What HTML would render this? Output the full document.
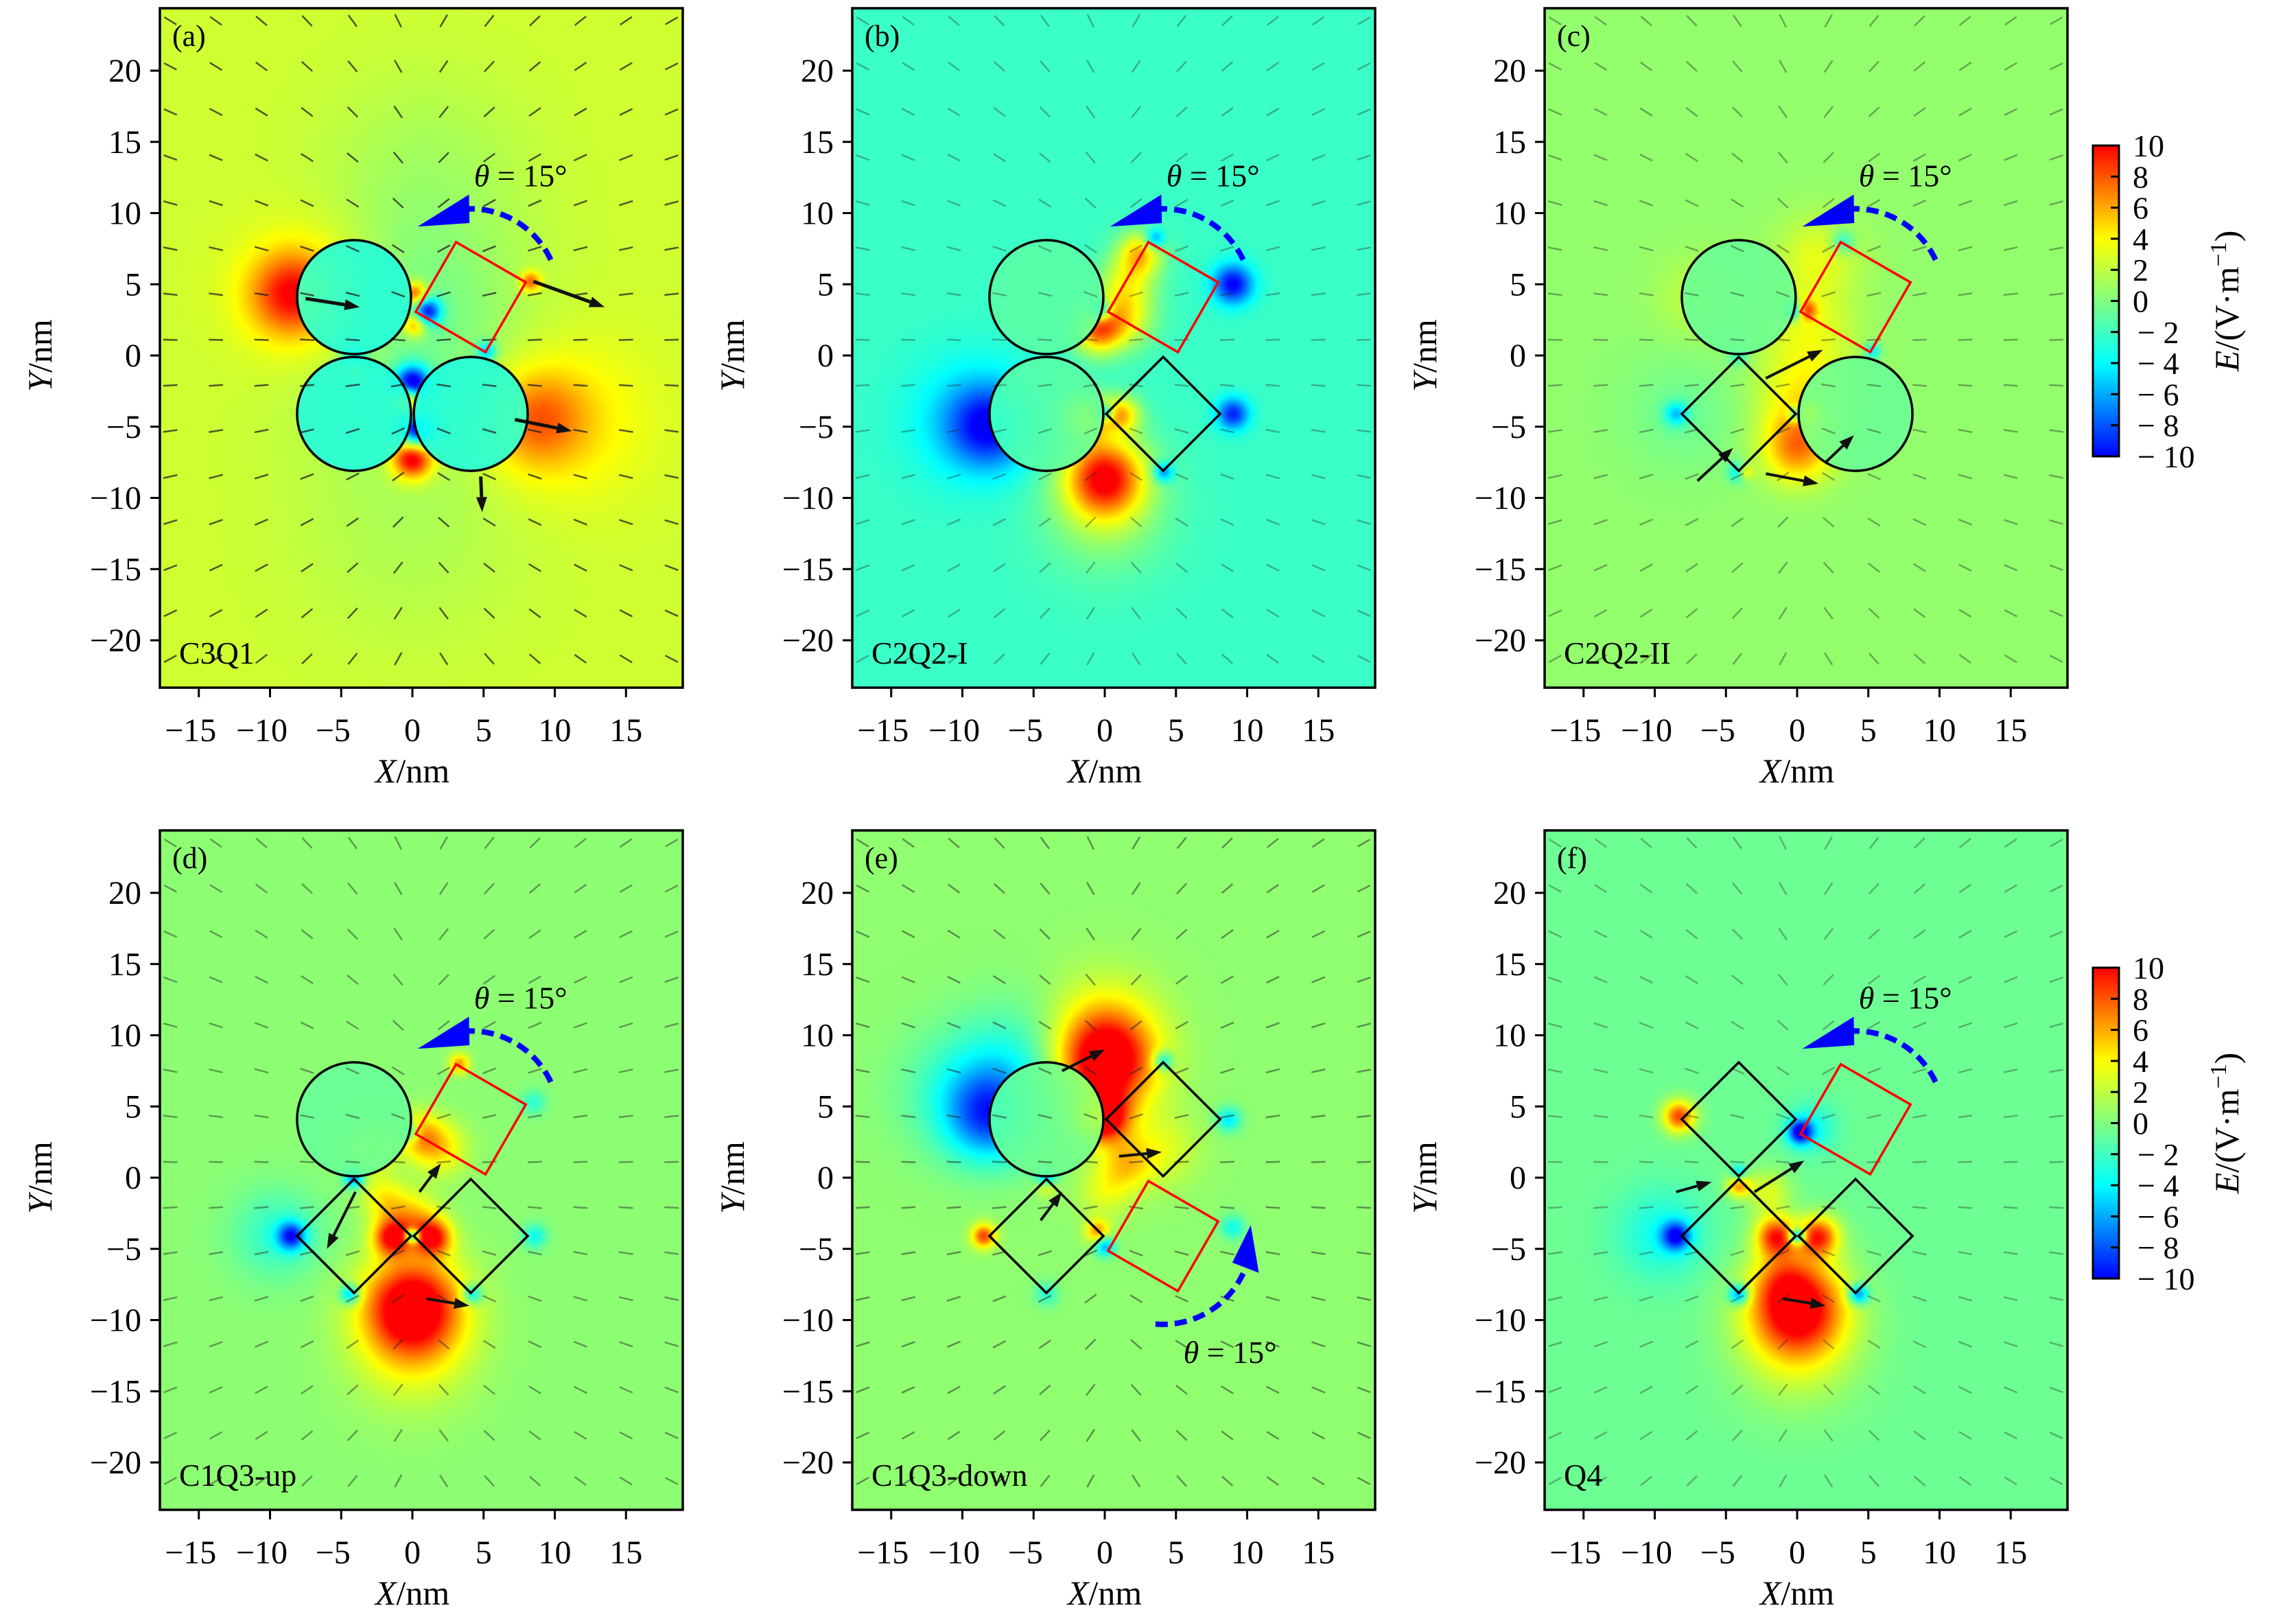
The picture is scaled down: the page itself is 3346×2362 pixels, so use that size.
<!DOCTYPE html>
<html><head><meta charset="utf-8">
<style>
html,body{margin:0;padding:0;background:#fff;}
#root{position:relative;width:3346px;height:2362px;overflow:hidden;background:#fff;}
canvas{position:absolute;}
svg{position:absolute;left:0;top:0;}
text{font-family:"Liberation Serif",serif;fill:#000;}
</style></head>
<body>
<div id="root">
<svg id="ov" width="3346" height="2362"></svg>
</div>
<script>
// ---- data ----
const panelIds = ['a','b','c','d','e','f'];
const panelLabels = ['C3Q1','C2Q2-I','C2Q2-II','C1Q3-up','C1Q3-down','Q4'];
const panelBg = [2.5,-2.2,0.6,0.4,0.5,-0.6];
const xTicks = [-15,-10,-5,0,5,10,15];
const yTicks = [20,15,10,5,0,-5,-10,-15,-20];
const cbTicks = [10,8,6,4,2,0,-2,-4,-6,-8,-10];
const shapesA = [['c',-4.1,4.1],['c',-4.1,-4.1],['c',4.1,-4.1],['r',4.1,4.1]];
const shapesB = [['c',-4.1,4.1],['c',-4.1,-4.1],['d',4.1,-4.1],['r',4.1,4.1]];
const shapesC = [['c',-4.1,4.1],['d',-4.1,-4.1],['c',4.1,-4.1],['r',4.1,4.1]];
const shapesD = [['c',-4.1,4.1],['d',-4.1,-4.1],['d',4.1,-4.1],['r',4.1,4.1]];
const shapesE = [['c',-4.1,4.1],['d',-4.1,-4.1],['d',4.1,4.1],['r',4.1,-4.1]];
const shapesF = [['d',-4.1,4.1],['d',-4.1,-4.1],['d',4.1,-4.1],['r',4.1,4.1]];
const circleInterior = [-3.0,-1.2,-0.7,-0.8,-0.5,0];
// blobs [x, y, amplitude, sigma]
const blobsA = [[-8.5,4.3,6,2.0],[-7,4.3,3,3.5],[8.6,-4.5,4.5,2.4],[11,-4.5,2,4],[0,-2,-12,0.9],[-0.4,-3.2,10,0.7],[0.3,-5.2,-12,0.9],[0,-7.2,10,1.0],[0.2,4.3,8,0.6],[0.2,2.2,7,0.6],[1.0,3.1,-10,0.7],[-4.1,-0.2,-7,0.6],[-4.1,-0.9,5,0.5],[8.3,5.2,6,0.5],[5.2,0.3,-6,0.5],[0,2,-3,5.5],[0,-12,-1,6],[1,13,-1.2,5]];
const blobsB = [[0,-8.5,11,2.0],[0,-11,3,3],[-1.5,-4.3,10,1.1],[1.2,-4.1,7,0.9],[-0.5,1.8,9,1.2],[1.5,2.5,5,1.4],[2.5,7.2,7,1.1],[1.5,5,5,1.4],[-8,-5,-6,2],[-9.5,-4.5,-3,3],[9,5,-8,1.0],[9,-4.1,-7,0.8],[4.1,-8.2,-6,0.5],[3.5,8.2,-6,0.5],[0,-4,-8,0.4],[-0.3,3.2,-8,0.5]];
const blobsC = [[0,-6.5,6,1.7],[0.5,-3,3.5,2.3],[0.8,2,2.5,2.3],[1.5,7,2.5,2],[0.8,-4.1,8,0.5],[0,-4.1,-8,0.4],[-0.2,3.2,-9,0.5],[0.6,3.2,7,0.5],[-4.1,-8.2,-6,0.5],[-3.7,-8.2,6,0.4],[-8.5,-4.1,-5,0.6],[-4.1,0,-3,0.5],[3.2,8,-4,0.6],[5.3,0.3,-5,0.4],[-7,4,1.5,2],[-8,-4,-1.2,3]];
const blobsD = [[0,-9,11,2.4],[0,-12,3,3],[-1.5,-4.2,8,0.9],[1.5,-4.2,8,0.9],[0,-3,5,1.3],[0.5,3,5,1.1],[2,2,4,1.3],[-3,2,3.5,1.3],[-2,-1.5,3.5,1.1],[0,-4.1,-10,0.35],[-4.1,0,-8,0.5],[-8.5,-4.1,-8,0.7],[-9.5,-4,-3,2.2],[-4.4,-8.2,-7,0.5],[4.2,-8.2,-6,0.5],[8.6,-4.1,-4,0.6],[8.5,5.3,-3,0.6],[3.3,8,6,0.5],[-0.2,3.2,-6,0.5]];
const blobsE = [[0,8,11,2.4],[0,10.5,3,2.8],[0,4.2,9,1.2],[-1,4.2,4,1],[1.5,1,4,1.3],[4,2,2.5,1.8],[-8,4.2,-7,2.2],[-10,6,-3,3],[-6,8,-3,3],[-8.5,-4.1,8,0.6],[-4.1,0,-8,0.5],[-4.1,-0.5,5,0.5],[0,-4.8,-7,0.5],[-0.5,-3.8,6,0.6],[4.1,8.2,-6,0.5],[8.7,4.1,-5,0.6],[9,-3.5,-4,0.6],[-4.1,-8.2,-3,0.6],[0,-1,2.5,1.3]];
const blobsF = [[0,-9,11,2.4],[0,-12,3,3],[-1.5,-4.1,9,1.0],[1.5,-4.1,9,1.0],[-8.3,4.3,9,0.8],[-4.1,-0.5,7,0.6],[-4.1,-8.2,-8,0.5],[4.3,-8.2,-8,0.5],[0,-4.1,-10,0.4],[-8.5,-4.1,-8,0.7],[-9.5,-4,-3,2.2],[0.2,3.2,-9,0.6],[1,3.5,-3,1.2],[-4.1,0.3,-6,0.4],[-2,-1,3.5,1.1],[-1,-7,2.5,1.4]];
const bigArrowsA = [[8.5,5.2,13.5,3.4],[7.2,-4.5,11.2,-5.3],[-7.5,4.0,-3.7,3.4],[4.8,-8.5,4.9,-11]];
const bigArrowsC = [[-2.2,-1.6,1.8,0.4],[-2.2,-8.3,1.5,-9],[-7,-8.8,-4.5,-6.5],[2,-7.5,4,-5.6]];
const bigArrowsD = [[1,-8.5,4,-9],[-4,-1,-6,-5],[0.5,-1,2,1]];
const bigArrowsE = [[-3,7.5,0,9],[1,1.5,4,1.8],[-4.5,-3,-3,-1]];
const bigArrowsF = [[-1,-8.5,2,-9],[-3,-1,0.5,1.2],[-8.5,-1,-6,-0.3]];
const panelShapes = [shapesA,shapesB,shapesC,shapesD,shapesE,shapesF];
const panelBlobs = [blobsA,blobsB,blobsC,blobsD,blobsE,blobsF];
const panelBig = [bigArrowsA,[],bigArrowsC,bigArrowsD,bigArrowsE,bigArrowsF];
const arrowAlpha = [0.75,0.35,0.4,0.45,0.5,0.35];

// ---- layout ----
const colL=[233,1242,2251], rowT=[12,1210], PW=762, PH=990, S=20.75, X0OFF=368, Y0OFF=506;
const NS='http://www.w3.org/2000/svg';
const ov=document.getElementById('ov');
function mk(tag,attrs,parent){const e=document.createElementNS(NS,tag);for(const k in attrs)e.setAttribute(k,attrs[k]);(parent||ov).appendChild(e);return e;}
const cmapStops=[[0,0,0,255],[0.3,0,255,255],[0.5,128,255,128],[0.7,255,255,0],[0.85,255,128,0],[1,255,0,0]];
function cmap(t){if(t<=0)return cmapStops[0].slice(1);if(t>=1)return cmapStops[5].slice(1);
  for(let k=0;k<5;k++){const a=cmapStops[k],b=cmapStops[k+1];if(t<=b[0]){const f=(t-a[0])/(b[0]-a[0]);return [a[1]+(b[1]-a[1])*f,a[2]+(b[2]-a[2])*f,a[3]+(b[3]-a[3])*f];}}}
const D2R=Math.PI/180;

panelIds.forEach((pid,i)=>{
  const col=i%3,row=Math.floor(i/3);
  const L=colL[col],T=rowT[row];
  const sx=x=>L+X0OFF+x*S, sy=y=>T+Y0OFF-y*S;
  const blobs=panelBlobs[i], shapes=panelShapes[i], bg=panelBg[i];
  const step=3, cw=Math.ceil(PW/step), chh=Math.ceil(PH/step);
  const cv=document.createElement('canvas');
  cv.width=cw;cv.height=chh;
  cv.style.left=L+'px';cv.style.top=T+'px';cv.style.width=PW+'px';cv.style.height=PH+'px';
  
  
  document.getElementById('root').insertBefore(cv,ov);
  const ctx=cv.getContext('2d');const img=ctx.createImageData(cw,chh);
  for(let py=0;py<chh;py++){for(let px=0;px<cw;px++){
    const x=(px*step+step/2-X0OFF)/S, y=(Y0OFF-(py*step+step/2))/S;
    let v=bg;
    for(const b of blobs){const dx=x-b[0],dy=y-b[1];v+=b[2]*Math.exp(-(dx*dx+dy*dy)/(2*b[3]*b[3]));}
    for(const sh of shapes){if(sh[0]==='c'){const dx=x-sh[1],dy=y-sh[2];if(dx*dx+dy*dy<16){v=circleInterior[i]+(v-circleInterior[i])*0.12;}}}
    const c=cmap((v+10)/20);const k=(py*cw+px)*4;
    img.data[k]=c[0];img.data[k+1]=c[1];img.data[k+2]=c[2];img.data[k+3]=255;
  }}
  ctx.putImageData(img,0,0);
  const g=mk('g',{});
  
  
  const qg=mk('g',{stroke:'#222',fill:'#222','stroke-opacity':arrowAlpha[i],'fill-opacity':arrowAlpha[i]},g);
  
  
  for(let gx=-17;gx<19;gx+=3.2){for(let gy=23.5;gy>-23.5;gy-=3.2){
    let dx=1,dy=-0.6*gy/(Math.abs(gx)+6)*(gx<0?1:-1);const n=Math.hypot(dx,dy);dx/=n;dy/=n;
    const len=1.0,x1=gx-dx*len/2,y1=gy-dy*len/2,x2=gx+dx*len/2,y2=gy+dy*len/2;
    mk('line',{x1:sx(x1),y1:sy(y1),x2:sx(x2),y2:sy(y2),'stroke-width':2.5},qg);
  }}
  panelBig[i].forEach(a=>{
    const ax=sx(a[0]),ay=sy(a[1]),bx=sx(a[2]),by=sy(a[3]);
    const ang=Math.atan2(by-ay,bx-ax);const hl=22,hw=8;
    const bx2=bx-Math.cos(ang)*hl,by2=by-Math.sin(ang)*hl;
    const ln=mk('line',{x1:ax,y1:ay,x2:bx2,y2:by2,stroke:'#111','stroke-width':i===0?5:4},g);
    
    
    mk('polygon',{points:`${bx},${by} ${bx2-Math.sin(ang)*hw},${by2+Math.cos(ang)*hw} ${bx2+Math.sin(ang)*hw},${by2-Math.cos(ang)*hw}`,fill:'#111'},g);
  });
  shapes.forEach(sh=>{
    let el;
    if(sh[0]==='c'){el=mk('circle',{cx:sx(sh[1]),cy:sy(sh[2]),r:4*S,fill:'none',stroke:'#000','stroke-width':3.5},g);
      }
    else{const rot=sh[0]==='r'?15:0;const pts=[];for(let k=0;k<4;k++){const a=(k*90+rot)*D2R;pts.push(sx(sh[1]+4*Math.cos(a))+','+sy(sh[2]+4*Math.sin(a)));}
      el=mk('polygon',{points:pts.join(' '),fill:'none',stroke:sh[0]==='r'?'#ff0000':'#000','stroke-width':3.5},g);
      }
    
  });
  const red=shapes.find(s=>s[0]==='r');const up=red[2]>0;
  const cx=red[1],cy=red[2],R=6.2;
  const a0=up?25:-95,a1=up?95:-25,h0=up?95:-25,h1=up?127:7;
  let d='';for(let k=0;k<=30;k++){const a=(a0+(a1-a0)*k/30)*D2R;d+=(k?'L':'M')+sx(cx+R*Math.cos(a))+','+sy(cy+R*Math.sin(a));}
  const arc=mk('path',{d:d,fill:'none',stroke:'#0000ff','stroke-width':8,'stroke-dasharray':'18 10'},g);
  
  
  const hb=(up?h0-4:h0+4)*D2R,ht=h1*D2R;const tx=cx+R*Math.cos(ht),ty=cy+R*Math.sin(ht);
  const bxm=cx+R*Math.cos(hb),bym=cy+R*Math.sin(hb);const nx=Math.cos(hb)*1.0,ny=Math.sin(hb)*1.0;
  const head=mk('polygon',{points:`${sx(tx)},${sy(ty)} ${sx(bxm+nx)},${sy(bym+ny)} ${sx(bxm-nx)},${sy(bym-ny)}`,fill:'#0000ff'},g);
  
  
  const thx=up?7.6:8.8, thy=up?12.6:-12.3;
  const tht=mk('text',{x:sx(thx),y:sy(thy)+15,'font-size':46,'text-anchor':'middle'},g);
  tht.innerHTML='<tspan font-style="italic">θ</tspan> = 15°';
  
  
  const fr=mk('rect',{x:L,y:T,width:PW,height:PH,fill:'none',stroke:'#000','stroke-width':3.5},g);
  
  
  const pl=mk('text',{x:L+18,y:T+55,'font-size':44},g);pl.textContent='('+pid+')';
  
  
  const nm=mk('text',{x:L+28,y:T+PH-35,'font-size':46},g);nm.textContent=panelLabels[i];
  
  
  xTicks.forEach(t=>{const x=sx(t);mk('line',{x1:x,y1:T+PH,x2:x,y2:T+PH+14,stroke:'#000','stroke-width':3},g);
    const tl=mk('text',{x:x-(t<0?12:0),y:T+PH+78,'font-size':48,'text-anchor':'middle'},g);tl.textContent=(t<0?'−':'')+Math.abs(t);
    
    });
  yTicks.forEach(t=>{const y=sy(t);mk('line',{x1:L-14,y1:y,x2:L,y2:y,stroke:'#000','stroke-width':3},g);
    const tl=mk('text',{x:L-27,y:y+16,'font-size':48,'text-anchor':'end'},g);tl.textContent=(t<0?'−':'')+Math.abs(t);
    
    });
  const xl=mk('text',{x:L+X0OFF,y:T+PH+138,'font-size':50,'text-anchor':'middle'},g);xl.innerHTML='<tspan font-style="italic">X</tspan>/nm';
  
  
  const yl=mk('text',{x:0,y:0,'font-size':50,'text-anchor':'middle',transform:`translate(${L-158},${T+Y0OFF}) rotate(-90)`},g);yl.innerHTML='<tspan font-style="italic">Y</tspan>/nm';
  
  
});

[212,1410].forEach((cbT,ri)=>{
  const cbL=3050,cbW=38,cbH=453;
  const g=mk('g',{});
  
  
  const defs=mk('defs',{},g);const gid='jetg'+ri;
  const lg=mk('linearGradient',{id:gid,x1:0,y1:1,x2:0,y2:0},defs);
  for(let k=0;k<=20;k++){const c=cmap(k/20);mk('stop',{offset:k/20,'stop-color':`rgb(${Math.round(c[0])},${Math.round(c[1])},${Math.round(c[2])})`},lg);}
  mk('rect',{x:cbL,y:cbT,width:cbW,height:cbH,fill:`url(#${gid})`,stroke:'#000','stroke-width':3},g);
  cbTicks.forEach(t=>{const y=cbT+(10-t)/20*cbH;
    mk('line',{x1:cbL+cbW-12,y1:y,x2:cbL+cbW,y2:y,stroke:'#000','stroke-width':3},g);
    const tl=mk('text',{x:t<0?3115:3108,y:y+16,'font-size':46},g);tl.textContent=(t<0?'− ':'')+Math.abs(t);
    
    });
  const lb=mk('text',{x:0,y:0,'font-size':50,'text-anchor':'middle',transform:`translate(${3262},${cbT+cbH/2}) rotate(-90)`},g);
  lb.innerHTML='<tspan font-style="italic">E</tspan>/(V·m<tspan dy="-18" font-size="34">−1</tspan><tspan dy="18">)</tspan>';
  
  
});
</script>
</body></html>
